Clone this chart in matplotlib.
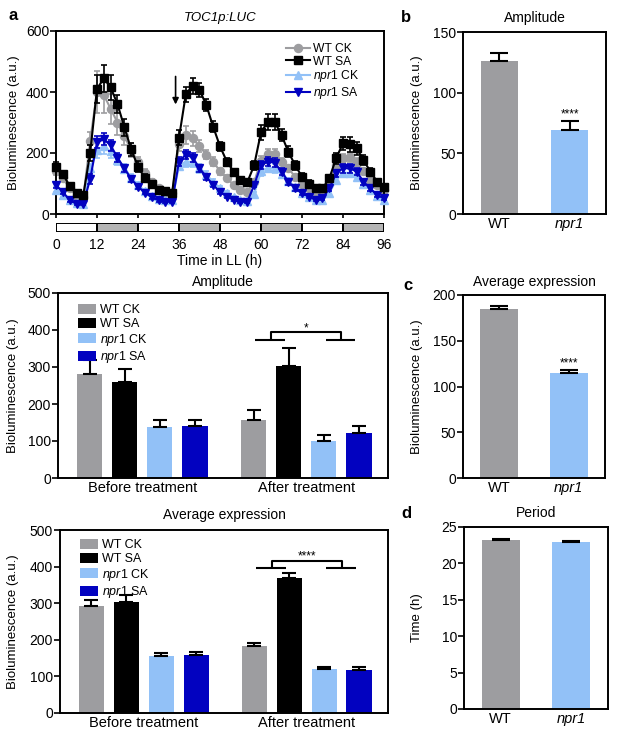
import numpy as np
import matplotlib
matplotlib.use('Agg')
import matplotlib.pyplot as plt
from matplotlib.patches import Patch
from matplotlib.lines import Line2D

plt.rcParams['font.family'] = ['Liberation Sans', 'DejaVu Sans']
plt.rcParams['mathtext.fontset'] = 'custom'
plt.rcParams['mathtext.rm'] = 'Liberation Sans'
plt.rcParams['mathtext.it'] = 'Liberation Sans:italic'

# ---- data ----
time_h = np.arange(0, 97, 2)

wt_ck = [140, 118, 85, 60, 55, 240, 400, 390, 345, 300, 255, 210, 170, 135, 105, 85, 72, 68,
         230, 258, 248, 222, 195, 172, 140, 117, 95, 78, 72, 105, 175, 198, 198, 172, 150, 122,
         100, 84, 73, 73, 106, 160, 182, 186, 170, 140, 112, 95, 80]
wt_ck_err = [12, 10, 8, 6, 6, 30, 70, 60, 50, 40, 30, 22, 18, 14, 10, 8, 6, 6,
             25, 30, 25, 20, 16, 14, 12, 10, 8, 6, 6, 10, 15, 15, 15, 12, 10, 8,
             8, 6, 6, 6, 8, 12, 15, 15, 12, 10, 8, 8, 6]
wt_sa = [155, 130, 93, 68, 62, 200, 410, 445, 415, 360, 285, 212, 155, 118, 97, 80, 74, 70,
         250, 393, 420, 407, 357, 286, 222, 172, 139, 111, 104, 160, 268, 302, 302, 259, 204, 160,
         122, 100, 84, 84, 117, 183, 232, 228, 215, 177, 139, 106, 90]
wt_sa_err = [15, 12, 10, 8, 8, 25, 45, 45, 40, 30, 28, 22, 18, 14, 10, 8, 8, 8,
             25, 25, 25, 22, 20, 18, 15, 12, 10, 8, 8, 15, 25, 25, 25, 20, 18, 15,
             12, 10, 8, 8, 12, 18, 22, 25, 20, 16, 12, 10, 10]
npr1_ck = [80, 62, 45, 35, 33, 150, 210, 222, 205, 178, 148, 118, 95, 75, 60, 50, 45, 45,
           158, 172, 170, 150, 128, 105, 85, 68, 55, 45, 43, 65, 140, 152, 150, 130, 108, 88,
           70, 55, 45, 45, 68, 112, 135, 135, 122, 100, 78, 60, 45]
npr1_ck_err = [8, 6, 5, 5, 5, 15, 25, 25, 20, 18, 15, 12, 10, 8, 6, 5, 5, 5,
               15, 18, 15, 14, 12, 10, 8, 6, 5, 5, 5, 8, 14, 14, 14, 12, 10, 8,
               6, 5, 5, 5, 6, 10, 12, 12, 10, 8, 6, 5, 5]
npr1_sa = [95, 72, 46, 33, 33, 115, 235, 245, 225, 185, 150, 115, 90, 70, 55, 45, 40, 40,
           172, 195, 185, 150, 122, 95, 73, 57, 46, 40, 40, 95, 160, 172, 168, 139, 106, 84,
           68, 57, 46, 51, 84, 133, 150, 150, 139, 106, 84, 62, 51]
npr1_sa_err = [10, 8, 6, 5, 5, 15, 20, 20, 18, 15, 12, 10, 8, 6, 5, 5, 5, 5,
               15, 15, 14, 12, 10, 8, 6, 5, 5, 5, 5, 8, 14, 15, 14, 12, 10, 8,
               6, 5, 5, 5, 8, 12, 14, 14, 12, 10, 8, 6, 5]

groups = ['Before treatment', 'After treatment']
amp_mean = [[281, 259, 138, 140], [157, 302, 101, 122]]
amp_err = [[37, 36, 20, 18], [27, 50, 16, 19]]
avg_mean = [[292, 303, 155, 158], [182, 369, 120, 117]]
avg_err = [[18, 20, 9, 8], [9, 14, 6, 8]]

genotypes = ['WT', 'npr1']
amp_b = [126, 69]
amp_b_err = [7, 8]
avg_c = [185, 115]
avg_c_err = [3, 3]
period_d = [23.2, 22.9]
period_d_err = [0.1, 0.15]

C_GRAY = '#9d9da0'
C_BLACK = '#000000'
C_LIGHT = '#92c1f7'
C_DARK = '#0202c0'
colors4 = [C_GRAY, C_BLACK, C_LIGHT, C_DARK]
labels4 = ['WT CK', 'WT SA', r'$\mathit{npr1}$ CK', r'$\mathit{npr1}$ SA']

W, H = 622, 741
fig = plt.figure(figsize=(W / 100, H / 100), dpi=100)


def px_axes(l, t, r, b):
    return fig.add_axes([l / W, 1 - b / H, (r - l) / W, (b - t) / H])


def ftext(x, y, s, **kw):
    fig.text(x / W, 1 - y / H, s, ha=kw.pop('ha', 'center'), va=kw.pop('va', 'center'), **kw)


def style_box(ax):
    for sp in ax.spines.values():
        sp.set_linewidth(1.4)
    ax.tick_params(axis='y', direction='out', length=4, width=1.2, labelsize=10, pad=1)
    ax.tick_params(axis='x', length=0, labelsize=10, pad=3)


# ---- panel a: time course ----
axa = px_axes(56, 31, 384, 214)
series = [(wt_ck, wt_ck_err, C_GRAY, 'o', 2),
          (npr1_ck, npr1_ck_err, C_LIGHT, '^', 3),
          (npr1_sa, npr1_sa_err, C_DARK, 'v', 4),
          (wt_sa, wt_sa_err, C_BLACK, 's', 5)]
for vals, err, col, mk, z in series:
    axa.errorbar(time_h, vals, yerr=err, color=col, marker=mk, markersize=5.8, lw=1.5,
                 capsize=2.5, elinewidth=1.2, capthick=1.2, zorder=z, clip_on=False)
axa.set_xlim(0, 96)
axa.set_ylim(0, 600)
axa.set_yticks([0, 200, 400, 600])
axa.set_xticks(range(0, 97, 12))
axa.set_xticklabels([])
for sp in axa.spines.values():
    sp.set_linewidth(1.4)
axa.tick_params(axis='y', direction='out', length=4, width=1.2, labelsize=10, pad=1)
axa.tick_params(axis='x', direction='out', length=3, width=1.2)
axa.set_ylabel('Bioluminescence (a.u.)', fontsize=9.5)
axa.yaxis.set_label_coords((20 - 56) / 328, 0.5)
axa.annotate('', xy=(35, 350), xytext=(35, 460),
             arrowprops=dict(arrowstyle='-|>', color='black', lw=1.2, mutation_scale=9))
hs = [Line2D([], [], color=c, marker=m, markersize=5.8, lw=1.5)
      for c, m in zip(colors4, ['o', 's', '^', 'v'])]
axa.legend(hs, labels4, loc='upper left', bbox_to_anchor=((286 - 56) / 328, (214 - 43) / 183),
           frameon=False, fontsize=8.7, borderpad=0, labelspacing=0.05, handlelength=2.0,
           handletextpad=0.2, borderaxespad=0, numpoints=1)

# light/dark bar
axl = px_axes(56, 223, 384, 232)
starts = list(range(0, 96, 12))
axl.bar(starts, [1] * len(starts), width=12, align='edge',
        color=['white' if i % 2 == 0 else '#b4b4b4' for i in range(len(starts))],
        edgecolor='black', lw=1.4)
axl.set_xlim(0, 96)
axl.set_ylim(0, 1)
axl.set_yticks([])
axl.set_xticks(range(0, 97, 12))
axl.tick_params(axis='x', length=0, labelsize=10, pad=4)
for sp in axl.spines.values():
    sp.set_visible(False)
ftext(220, 261, 'Time in LL (h)', fontsize=10)
ftext(220, 18, 'TOC1p:LUC', fontsize=9.5, fontstyle='italic')
ftext(13, 15, 'a', fontsize=12, fontweight='bold')


# ---- grouped bar panels ----
def grouped(ax, means, errs, legend_top, sig, sig_y, star_y, low_y):
    pos = [[0, 1, 2, 3], [4.67, 5.67, 6.67, 7.67]]
    for g in range(2):
        for i in range(4):
            ax.bar(pos[g][i], means[g][i], width=0.72, color=colors4[i], zorder=2)
            ax.errorbar(pos[g][i], means[g][i], yerr=[[0], [errs[g][i]]], color='black',
                        capsize=5, elinewidth=1.5, capthick=1.5, zorder=3)
    ax.set_xlim(-0.9, 8.5)
    ax.set_ylim(0, 500)
    ax.set_yticks([0, 100, 200, 300, 400, 500])
    ax.set_xticks([1.5, 6.17])
    ax.set_xticklabels(groups)
    style_box(ax)
    ax.tick_params(axis='x', labelsize=10.5, pad=2)
    ax.set_ylabel('Bioluminescence (a.u.)', fontsize=9.5)
    # significance bracket
    lc, rc = 5.17, 7.17
    kw = dict(color='black', lw=1.5, solid_capstyle='butt')
    ax.plot([lc, lc, rc, rc], [low_y, sig_y, sig_y, low_y], **kw)
    ax.plot([lc - 0.45, lc + 0.4], [low_y, low_y], **kw)
    ax.plot([rc - 0.45, rc + 0.4], [low_y, low_y], **kw)
    ax.text(6.17, star_y, sig, ha='center', va='center', fontsize=8.5)
    hs = [Patch(facecolor=c) for c in colors4]
    ax.legend(hs, labels4, loc='upper left', bbox_to_anchor=(0.06, legend_top), frameon=False,
              fontsize=9, borderpad=0, labelspacing=0.12, handlelength=1.45, handleheight=0.85,
              handletextpad=0.3, borderaxespad=0)


axm = px_axes(58, 293, 388, 478)
grouped(axm, amp_mean, amp_err, 0.94, '*', 394, 403, 374)
axm.yaxis.set_label_coords((19 - 58) / 330, 0.5)
ftext(223, 282, 'Amplitude', fontsize=10)

axbt = px_axes(60, 530, 388, 713)
grouped(axbt, avg_mean, avg_err, 0.95, '****', 416, 428, 395)
axbt.yaxis.set_label_coords((19 - 60) / 328, 0.5)
ftext(224, 515, 'Average expression', fontsize=10)


# ---- right-hand two-bar panels ----
def twobar(ax, vals, errs, ymax, yticks, ylabel, sig=None):
    ax.bar([0, 1], vals, width=0.54, color=[C_GRAY, C_LIGHT], zorder=2)
    ax.errorbar([0, 1], vals, yerr=[[0, 0], errs], fmt='none', ecolor='black',
                capsize=6.5, elinewidth=1.5, capthick=1.5, zorder=3)
    ax.set_xlim(-0.52, 1.52)
    ax.set_ylim(0, ymax)
    ax.set_yticks(yticks)
    ax.set_xticks([0, 1])
    ax.set_xticklabels(genotypes)
    ax.get_xticklabels()[1].set_fontstyle('italic')
    style_box(ax)
    ax.tick_params(axis='x', labelsize=10.5, pad=2)
    ax.set_ylabel(ylabel, fontsize=9.5)
    if sig:
        ax.text(1, vals[1] + errs[1] + ymax * 0.035, sig, ha='center', va='center', fontsize=8.5)


axb = px_axes(463, 32, 606, 214)
twobar(axb, amp_b, amp_b_err, 150, [0, 50, 100, 150], 'Bioluminescence (a.u.)', '****')
axb.yaxis.set_label_coords((423 - 463) / 143, 0.5)
ftext(535, 18, 'Amplitude', fontsize=10)
ftext(406, 17, 'b', fontsize=12, fontweight='bold')

axc = px_axes(463, 295, 605, 478)
twobar(axc, avg_c, avg_c_err, 200, [0, 50, 100, 150, 200], 'Bioluminescence (a.u.)', '****')
axc.yaxis.set_label_coords((423 - 463) / 142, 0.5)
ftext(534, 282, 'Average expression', fontsize=10)
ftext(408, 286, 'c', fontsize=12, fontweight='bold')

axd = px_axes(464, 527, 608, 709)
twobar(axd, period_d, period_d_err, 25, [0, 5, 10, 15, 20, 25], 'Time (h)')
axd.yaxis.set_label_coords((423 - 464) / 144, 0.5)
ftext(536, 513, 'Period', fontsize=10)
ftext(406, 513, 'd', fontsize=12, fontweight='bold')

fig.savefig('out.png', dpi=100)
